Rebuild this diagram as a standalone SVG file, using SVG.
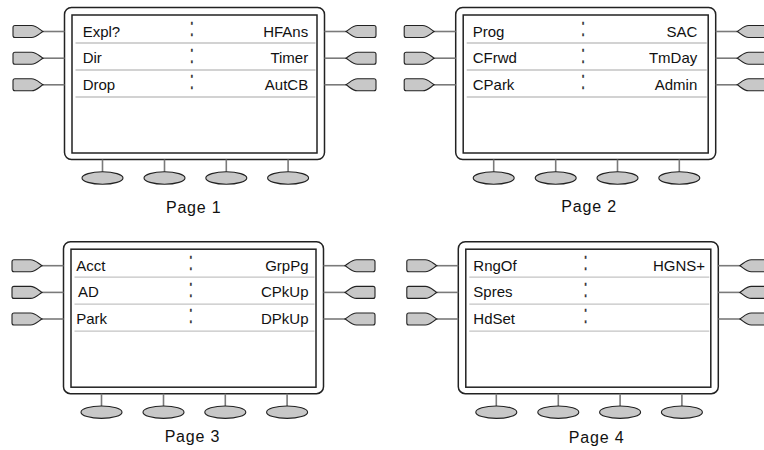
<svg xmlns="http://www.w3.org/2000/svg" width="764" height="450" viewBox="0 0 764 450">
<style>
.bg{fill:#ffffff}
.outer{fill:#ffffff;stroke:#222;stroke-width:1.5}
.inner{fill:#ffffff;stroke:#222;stroke-width:1.5}
.sep{stroke:#c4c4c4;stroke-width:1.3}
.stem{stroke:#7a7a7a;stroke-width:1.6;fill:none}
.key{fill:#c8c8c8;stroke:#222;stroke-width:1.1}
.t{font-family:"Liberation Sans",Arial,sans-serif;font-size:15px;fill:#111}
.r{text-anchor:end}
.colon{font-family:"Liberation Sans",Arial,sans-serif;font-size:15px;fill:#333;stroke:#333;stroke-width:0.2;text-anchor:middle}
.page{font-family:"Liberation Sans",Arial,sans-serif;font-size:16px;fill:#111;text-anchor:middle;letter-spacing:0.8px}
</style>
<defs>
<g id="lbtn">
<path class="stem" d="M-21.5,0 H0"/>
<path class="key" d="M-51.5,-4 Q-51.5,-6 -49.5,-6 L-33,-6 C-28,-6 -25,-2 -21.5,0 C-25,2 -28,6 -33,6 L-49.5,6 Q-51.5,6 -51.5,4 Z"/>
</g>
<g id="rbtn">
<path class="stem" d="M21.5,0 H0"/>
<path class="key" d="M51.5,-4 Q51.5,-6 49.5,-6 L33,-6 C28,-6 25,-2 21.5,0 C25,2 28,6 33,6 L49.5,6 Q51.5,6 51.5,4 Z"/>
</g>
<g id="sbtn">
<path class="stem" d="M0,0 V12.5"/>
<ellipse class="key" cx="0" cy="18.5" rx="20.5" ry="6.2"/>
</g>
<g id="frame">
<rect class="outer" x="0" y="0" width="260" height="152" rx="7"/>
<rect class="inner" x="7.5" y="7.5" width="245" height="138"/>
<path class="sep" d="M11,35.5 H251 M11,62.5 H251 M11,89.5 H251"/>
<text class="colon" transform="translate(127.3,28) scale(1,1.7)">:</text>
<text class="colon" transform="translate(127.3,55) scale(1,1.7)">:</text>
<text class="colon" transform="translate(127.3,81.5) scale(1,1.7)">:</text>
<use href="#lbtn" x="0" y="24"/>
<use href="#lbtn" x="0" y="50.7"/>
<use href="#lbtn" x="0" y="77.3"/>
<use href="#rbtn" x="260" y="24"/>
<use href="#rbtn" x="260" y="50.7"/>
<use href="#rbtn" x="260" y="77.3"/>
<use href="#sbtn" x="38" y="152"/>
<use href="#sbtn" x="100" y="152"/>
<use href="#sbtn" x="161.8" y="152"/>
<use href="#sbtn" x="223.6" y="152"/>
</g>
</defs>
<rect class="bg" x="0" y="0" width="764" height="450"/>

<g id="page1">
<g transform="translate(64.5,7.5)">
<use href="#frame"/>
<text class="t" x="18.2" y="29">Expl?</text>
<text class="t" x="18.2" y="55.5">Dir</text>
<text class="t" x="18.2" y="82">Drop</text>
<text class="t r" x="243.7" y="29">HFAns</text>
<text class="t r" x="243.7" y="55.5">Timer</text>
<text class="t r" x="243.7" y="82">AutCB</text>
</g>
<text class="page" x="193.7" y="213.3">Page 1</text>
</g>

<g id="page2">
<g transform="translate(455.7,7.5)">
<use href="#frame"/>
<text class="t" x="17" y="29">Prog</text>
<text class="t" x="17" y="55.5">CFrwd</text>
<text class="t" x="17" y="82">CPark</text>
<text class="t r" x="241.6" y="29">SAC</text>
<text class="t r" x="241.6" y="55.5">TmDay</text>
<text class="t r" x="241.6" y="82">Admin</text>
</g>
<text class="page" x="589.1" y="212.3">Page 2</text>
</g>

<g id="page3">
<g transform="translate(63.5,241.7)">
<use href="#frame"/>
<text class="t" x="12.7" y="29">Acct</text>
<text class="t" x="14.5" y="55.5">AD</text>
<text class="t" x="12.7" y="82">Park</text>
<text class="t r" x="245" y="29">GrpPg</text>
<text class="t r" x="245" y="55.5">CPkUp</text>
<text class="t r" x="245" y="82">DPkUp</text>
</g>
<text class="page" x="192.4" y="442.3">Page 3</text>
</g>

<g id="page4">
<g transform="translate(458.3,241.7)">
<use href="#frame"/>
<text class="t" x="15" y="29">RngOf</text>
<text class="t" x="15" y="55.5">Spres</text>
<text class="t" x="15" y="82">HdSet</text>
<text class="t r" x="246.7" y="29">HGNS+</text>
</g>
<text class="page" x="596.6" y="443.3">Page 4</text>
</g>
</svg>
